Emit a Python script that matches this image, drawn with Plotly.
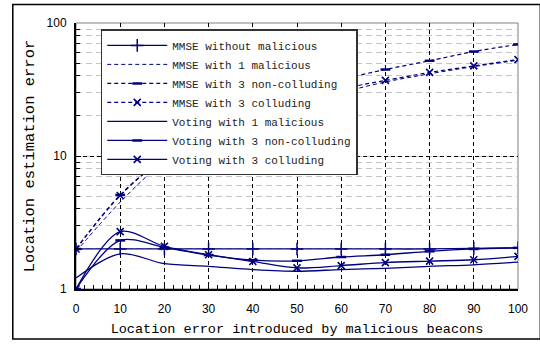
import plotly.graph_objects as go

# Location error introduced by malicious beacons
x_err = [0, 10, 20, 30, 40, 50, 60, 70, 80, 90, 100]

# Location estimation error per scheme
mmse_none = [2.0, 2.0, 2.0, 2.0, 2.0, 2.0, 2.0, 2.0, 2.0, 2.02, 2.04]
mmse_1_mal = [1.91, 4.5, 9.1, 14.0, 19.5, 24.5, 30.0, 36.0, 41.5, 47.0, 52.5]
mmse_3_noncoll = [2.0, 5.1, 9.8, 16.0, 23.0, 30.0, 37.5, 44.7, 52.0, 61.0, 69.0]
mmse_3_coll = [2.0, 5.05, 9.7, 15.0, 21.0, 27.0, 32.0, 37.0, 42.5, 47.6, 53.1]
vote_1_mal = [1.21, 1.84, 1.55, 1.48, 1.40, 1.36, 1.40, 1.43, 1.48, 1.52, 1.59]
vote_3_noncoll = [1.0, 2.32, 2.05, 1.80, 1.65, 1.63, 1.74, 1.81, 1.92, 2.0, 2.04]
vote_3_coll = [1.0, 2.70, 2.09, 1.81, 1.61, 1.44, 1.50, 1.58, 1.62, 1.66, 1.76]

names = [
    "MMSE without malicious",
    "MMSE with 1 malicious",
    "MMSE with 3 non-colluding",
    "MMSE with 3 colluding",
    "Voting with 1 malicious",
    "Voting with 3 non-colluding",
    "Voting with 3 colluding",
]

NAVY = "#000080"
MONO = "Liberation Mono, Courier New, monospace"
SANS = "Liberation Sans, Arial, sans-serif"
DASH = "4px,3px"

series = [
    (mmse_none, "solid", 1.3, "cross-thin", 9, 1.5),
    (mmse_1_mal, DASH, 1.0, None, 0, 0),
    (mmse_3_noncoll, DASH, 1.2, "line-ew", 7, 2.5),
    (mmse_3_coll, DASH, 1.2, "x-thin", 7, 1.6),
    (vote_1_mal, "solid", 1.3, None, 0, 0),
    (vote_3_noncoll, "solid", 1.3, "line-ew", 7, 2.5),
    (vote_3_coll, "solid", 1.3, "x-thin", 7, 1.6),
]

fig = go.Figure()
for name, (vals, dash, lw, sym, msize, mlw) in zip(names, series):
    if sym is None:
        mode = "lines"
        marker = None
    else:
        mode = "lines+markers"
        marker = dict(symbol=sym, size=msize, color=NAVY,
                      line=dict(color=NAVY, width=mlw))
    fig.add_trace(go.Scatter(
        x=x_err, y=vals, name=name, mode=mode,
        line=dict(color=NAVY, width=lw, dash=dash, shape="spline", smoothing=0.9),
        marker=marker,
    ))

fig.update_xaxes(
    range=[0, 100], tickvals=x_err, ticktext=[str(v) for v in x_err],
    showgrid=True, gridcolor="#000000", griddash="4px,3px", gridwidth=1,
    showline=True, linecolor="#000000", linewidth=2,
    ticks="inside", ticklen=5, tickcolor="#000000",
    minor=dict(dtick=2, ticks="inside", ticklen=4, tickcolor="#000000", showgrid=False),
    tickfont=dict(family=SANS, size=12, color="#000000"),
    ticklabelstandoff=8,
    zeroline=False,
    title=dict(text="Location error introduced by malicious beacons",
               font=dict(family=MONO, size=13.5, color="#000000"), standoff=8),
)
fig.update_yaxes(
    type="log", range=[0, 2], tickvals=[1, 10, 100], ticktext=["1", "10", "100"],
    showgrid=True, gridcolor="#000000", griddash="4px,3px", gridwidth=1,
    showline=True, linecolor="#000000", linewidth=2,
    ticks="inside", ticklen=5, tickcolor="#000000",
    minor=dict(dtick="D1", ticks="inside", ticklen=4, tickcolor="#000000",
               showgrid=True, gridcolor="#c4c4c4", griddash="6px,4px", gridwidth=1),
    tickfont=dict(family=SANS, size=12, color="#000000"),
    ticklabelstandoff=5,
    zeroline=False,
    title=dict(text="Location estimation error",
               font=dict(family=MONO, size=15.5, color="#000000"), standoff=8),
)

# grey plot-area border and outer frame
fig.add_shape(type="rect", xref="paper", yref="paper", x0=0, y0=0, x1=1, y1=1,
              line=dict(color="#808080", width=1), layer="below")
fig.add_shape(type="rect", xref="paper", yref="paper",
              x0=-0.143, y0=-0.188, x1=1.0505, y1=1.07,
              line=dict(color="#000000", width=1.5), layer="below")

fig.update_layout(
    width=540, height=350,
    margin=dict(l=76, r=12, t=23, b=61),
    paper_bgcolor="#ffffff", plot_bgcolor="#ffffff",
    showlegend=True,
    legend=dict(
        x=0.056, y=0.976, xanchor="left", yanchor="top",
        bgcolor="#ffffff", bordercolor="#333333", borderwidth=1.5,
        font=dict(family=MONO, size=11, color="#222222"),
        tracegroupgap=0, itemwidth=60,
    ),
)

fig.write_html("out.html")
